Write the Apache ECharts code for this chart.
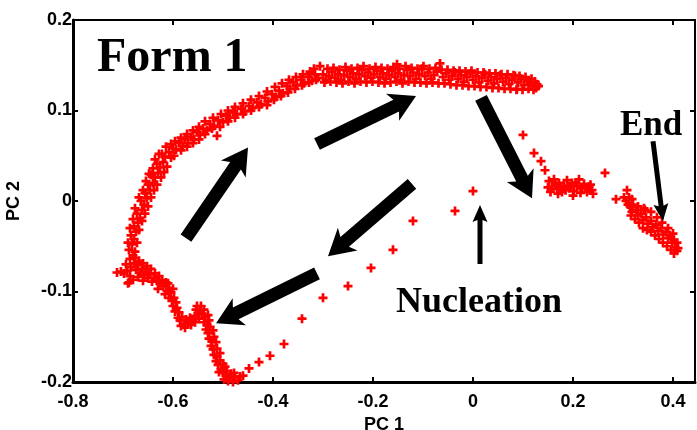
<!DOCTYPE html>
<html>
<head>
<meta charset="utf-8" />
<title>Form 1</title>
<script src="https://cdn.jsdelivr.net/npm/echarts@6/dist/echarts.min.js"></script>
</head>
<body style="margin:0;">
<div id="chart" style="width:697px;height:430px;"></div>
<script>
// PC1 / PC2 points, split into path segments
var nucleationPath = [
  [0.000, 0.011], [-0.036, -0.011], [-0.120, -0.022], [-0.160, -0.054],
  [-0.204, -0.074], [-0.250, -0.094], [-0.300, -0.107], [-0.342, -0.130],
  [-0.378, -0.158], [-0.406, -0.171], [-0.428, -0.178], [-0.448, -0.185],
  [-0.460, -0.193], [-0.478, -0.190]
];
var leftLower = [
  [-0.470, -0.198], [-0.476, -0.194], [-0.480, -0.200], [-0.486, -0.196], [-0.490, -0.199],
  [-0.494, -0.193], [-0.498, -0.197], [-0.500, -0.190], [-0.504, -0.186], [-0.508, -0.189],
  [-0.510, -0.181], [-0.514, -0.177], [-0.512, -0.172], [-0.518, -0.170], [-0.520, -0.164],
  [-0.524, -0.160], [-0.522, -0.155], [-0.528, -0.152], [-0.530, -0.146], [-0.534, -0.142],
  [-0.532, -0.137], [-0.538, -0.134], [-0.536, -0.128], [-0.542, -0.125], [-0.546, -0.121],
  [-0.550, -0.124], [-0.554, -0.120], [-0.556, -0.127], [-0.560, -0.131], [-0.566, -0.129],
  [-0.570, -0.135], [-0.574, -0.131], [-0.578, -0.136], [-0.582, -0.128], [-0.586, -0.132],
  [-0.588, -0.123], [-0.592, -0.118], [-0.594, -0.112], [-0.598, -0.107], [-0.602, -0.110],
  [-0.604, -0.101], [-0.608, -0.096], [-0.612, -0.099], [-0.614, -0.090], [-0.620, -0.094],
  [-0.626, -0.091], [-0.630, -0.097], [-0.632, -0.088], [-0.638, -0.085], [-0.642, -0.089],
  [-0.646, -0.081], [-0.650, -0.085], [-0.654, -0.078], [-0.658, -0.082], [-0.662, -0.075],
  [-0.666, -0.079], [-0.670, -0.071], [-0.674, -0.076], [-0.678, -0.069], [-0.680, -0.087],
  [-0.684, -0.073], [-0.690, -0.091], [-0.692, -0.077], [-0.698, -0.080], [-0.712, -0.079]
];
var leftLowerFill = [
  [-0.466, -0.194], [-0.484, -0.191], [-0.492, -0.188], [-0.496, -0.183], [-0.500, -0.180],
  [-0.506, -0.176], [-0.506, -0.168], [-0.512, -0.163], [-0.514, -0.156], [-0.518, -0.150],
  [-0.520, -0.143], [-0.526, -0.139], [-0.528, -0.132], [-0.530, -0.126], [-0.538, -0.120],
  [-0.544, -0.116], [-0.552, -0.116], [-0.548, -0.130], [-0.556, -0.134], [-0.564, -0.137],
  [-0.576, -0.140], [-0.584, -0.138], [-0.590, -0.129], [-0.596, -0.122], [-0.600, -0.116],
  [-0.608, -0.107], [-0.616, -0.103], [-0.600, -0.097], [-0.610, -0.091], [-0.622, -0.087],
  [-0.628, -0.083], [-0.636, -0.080], [-0.644, -0.075], [-0.652, -0.072], [-0.660, -0.069],
  [-0.668, -0.066], [-0.676, -0.063], [-0.660, -0.088], [-0.670, -0.084], [-0.686, -0.083],
  [-0.694, -0.070], [-0.704, -0.078], [-0.688, -0.090]
];
var leftUpper = [
  [-0.686, -0.064], [-0.680, -0.060], [-0.688, -0.054], [-0.682, -0.048], [-0.678, -0.042],
  [-0.684, -0.038], [-0.674, -0.034], [-0.678, -0.028], [-0.670, -0.024], [-0.666, -0.019],
  [-0.672, -0.014], [-0.662, -0.010], [-0.658, -0.004], [-0.664, 0.000], [-0.652, 0.003],
  [-0.656, 0.009], [-0.646, 0.012], [-0.650, 0.018], [-0.640, 0.020], [-0.636, 0.026],
  [-0.644, 0.029], [-0.630, 0.031], [-0.626, 0.037], [-0.632, 0.041], [-0.620, 0.043],
  [-0.616, 0.049], [-0.622, 0.052], [-0.608, 0.054], [-0.600, 0.058], [-0.604, 0.063],
  [-0.594, 0.057], [-0.588, 0.064], [-0.580, 0.061], [-0.576, 0.068], [-0.570, 0.064],
  [-0.564, 0.071], [-0.558, 0.068], [-0.552, 0.076], [-0.546, 0.073], [-0.540, 0.080],
  [-0.532, 0.078], [-0.526, 0.085], [-0.518, 0.083], [-0.512, 0.072], [-0.510, 0.089],
  [-0.500, 0.087], [-0.494, 0.094], [-0.486, 0.092], [-0.480, 0.098], [-0.472, 0.096],
  [-0.464, 0.102], [-0.456, 0.099], [-0.448, 0.105], [-0.440, 0.103], [-0.432, 0.109],
  [-0.424, 0.107], [-0.416, 0.114], [-0.410, 0.110], [-0.402, 0.118], [-0.394, 0.115],
  [-0.388, 0.122], [-0.380, 0.119], [-0.372, 0.127], [-0.366, 0.124], [-0.360, 0.131],
  [-0.352, 0.128], [-0.344, 0.134], [-0.338, 0.130], [-0.330, 0.137], [-0.322, 0.133],
  [-0.316, 0.140], [-0.310, 0.136], [-0.306, 0.149]
];
var leftUpperFill = [
  [-0.676, -0.056], [-0.690, -0.046], [-0.672, -0.046], [-0.686, -0.030], [-0.668, -0.032],
  [-0.680, -0.020], [-0.662, -0.022], [-0.676, -0.008], [-0.656, -0.014], [-0.668, 0.004],
  [-0.650, -0.006], [-0.660, 0.012], [-0.644, 0.004], [-0.654, 0.022], [-0.638, 0.012],
  [-0.648, 0.030], [-0.632, 0.018], [-0.640, 0.036], [-0.624, 0.026], [-0.636, 0.046],
  [-0.618, 0.032], [-0.628, 0.052], [-0.612, 0.038], [-0.614, 0.060], [-0.604, 0.048],
  [-0.596, 0.066], [-0.598, 0.050], [-0.584, 0.056], [-0.584, 0.070], [-0.572, 0.060],
  [-0.572, 0.074], [-0.560, 0.064], [-0.560, 0.078], [-0.548, 0.068], [-0.548, 0.082],
  [-0.536, 0.074], [-0.536, 0.088], [-0.522, 0.080], [-0.520, 0.092], [-0.506, 0.082],
  [-0.504, 0.096], [-0.490, 0.088], [-0.490, 0.100], [-0.476, 0.092], [-0.476, 0.104],
  [-0.460, 0.096], [-0.460, 0.108], [-0.444, 0.100], [-0.444, 0.112], [-0.428, 0.104],
  [-0.428, 0.116], [-0.412, 0.106], [-0.412, 0.121], [-0.398, 0.112], [-0.396, 0.126],
  [-0.384, 0.116], [-0.382, 0.130], [-0.370, 0.120], [-0.368, 0.134], [-0.356, 0.124],
  [-0.354, 0.137], [-0.342, 0.128], [-0.340, 0.140], [-0.328, 0.131], [-0.326, 0.143],
  [-0.314, 0.134], [-0.318, 0.146]
];
var topBand = [
  [-0.300, 0.140], [-0.294, 0.134], [-0.288, 0.138], [-0.282, 0.143], [-0.276, 0.136],
  [-0.270, 0.140], [-0.264, 0.134], [-0.258, 0.139], [-0.252, 0.144], [-0.246, 0.137],
  [-0.240, 0.141], [-0.234, 0.135], [-0.228, 0.140], [-0.222, 0.145], [-0.216, 0.138],
  [-0.210, 0.142], [-0.204, 0.136], [-0.198, 0.140], [-0.192, 0.144], [-0.186, 0.137],
  [-0.180, 0.141], [-0.174, 0.135], [-0.168, 0.139], [-0.162, 0.144], [-0.156, 0.137],
  [-0.152, 0.151], [-0.150, 0.141], [-0.144, 0.134], [-0.138, 0.139], [-0.132, 0.145],
  [-0.126, 0.138], [-0.120, 0.142], [-0.114, 0.135], [-0.108, 0.140], [-0.102, 0.146],
  [-0.096, 0.138], [-0.090, 0.142], [-0.084, 0.135], [-0.078, 0.139], [-0.072, 0.143],
  [-0.066, 0.152], [-0.060, 0.137], [-0.054, 0.141], [-0.048, 0.134], [-0.042, 0.138],
  [-0.036, 0.142], [-0.030, 0.135], [-0.024, 0.139], [-0.018, 0.132], [-0.012, 0.137],
  [-0.006, 0.141], [0.000, 0.134], [0.006, 0.138], [0.012, 0.131], [0.018, 0.136],
  [0.024, 0.140], [0.030, 0.133], [0.036, 0.137], [0.042, 0.130], [0.048, 0.135],
  [0.054, 0.139], [0.060, 0.132], [0.066, 0.136], [0.072, 0.129], [0.078, 0.134],
  [0.084, 0.138], [0.088, 0.124], [0.090, 0.131], [0.096, 0.135], [0.102, 0.128],
  [0.108, 0.133], [0.114, 0.130], [0.120, 0.127], [0.124, 0.132], [0.128, 0.129]
];
var topBandFill = [
  [-0.297, 0.131], [-0.291, 0.146], [-0.285, 0.132], [-0.279, 0.147], [-0.273, 0.131],
  [-0.267, 0.145], [-0.261, 0.130], [-0.255, 0.148], [-0.249, 0.132], [-0.243, 0.146],
  [-0.237, 0.130], [-0.231, 0.147], [-0.225, 0.132], [-0.219, 0.149], [-0.213, 0.131],
  [-0.207, 0.146], [-0.201, 0.132], [-0.195, 0.148], [-0.189, 0.131], [-0.183, 0.147],
  [-0.177, 0.130], [-0.171, 0.146], [-0.165, 0.131], [-0.159, 0.148], [-0.153, 0.132],
  [-0.147, 0.146], [-0.141, 0.130], [-0.135, 0.149], [-0.129, 0.132], [-0.123, 0.147],
  [-0.117, 0.131], [-0.111, 0.146], [-0.105, 0.131], [-0.099, 0.149], [-0.093, 0.130],
  [-0.087, 0.146], [-0.081, 0.131], [-0.075, 0.147], [-0.069, 0.130], [-0.063, 0.145],
  [-0.057, 0.130], [-0.051, 0.145], [-0.045, 0.129], [-0.039, 0.144], [-0.033, 0.128],
  [-0.027, 0.144], [-0.021, 0.128], [-0.015, 0.143], [-0.009, 0.127], [-0.003, 0.144],
  [0.003, 0.127], [0.009, 0.142], [0.015, 0.126], [0.021, 0.142], [0.027, 0.126],
  [0.033, 0.141], [0.039, 0.125], [0.045, 0.141], [0.051, 0.125], [0.057, 0.140],
  [0.063, 0.124], [0.069, 0.140], [0.075, 0.124], [0.081, 0.139], [0.087, 0.123],
  [0.093, 0.138], [0.099, 0.123], [0.105, 0.137], [0.111, 0.124], [0.117, 0.135],
  [0.121, 0.123], [0.126, 0.125], [0.131, 0.127]
];
var descent = [
  [0.100, 0.073], [0.122, 0.053], [0.136, 0.044], [0.144, 0.034]
];
var plateau = [
  [0.152, 0.022], [0.158, 0.016], [0.162, 0.024], [0.168, 0.013], [0.172, 0.020],
  [0.178, 0.010], [0.182, 0.017], [0.188, 0.023], [0.192, 0.014], [0.198, 0.020],
  [0.202, 0.011], [0.208, 0.017], [0.212, 0.024], [0.218, 0.014], [0.222, 0.019],
  [0.228, 0.010], [0.232, 0.016], [0.238, 0.012], [0.264, 0.031], [0.286, 0.002],
  [0.150, 0.015], [0.155, 0.010], [0.165, 0.018], [0.175, 0.015], [0.185, 0.012],
  [0.195, 0.016], [0.205, 0.020], [0.215, 0.009], [0.225, 0.015], [0.235, 0.018],
  [0.240, 0.008], [0.170, 0.008], [0.200, 0.006]
];
var endCluster = [
  [0.308, 0.012], [0.312, 0.004], [0.306, 0.000], [0.314, -0.006], [0.320, -0.004],
  [0.318, -0.012], [0.326, -0.010], [0.330, -0.016], [0.336, -0.014], [0.340, -0.021],
  [0.344, -0.010], [0.346, -0.018], [0.350, -0.025], [0.356, -0.022], [0.360, -0.029],
  [0.366, -0.026], [0.370, -0.033], [0.376, -0.030], [0.380, -0.037], [0.386, -0.034],
  [0.390, -0.041], [0.394, -0.038], [0.398, -0.046], [0.402, -0.043], [0.404, -0.051],
  [0.408, -0.055]
];
var endFill = [
  [0.302, 0.004], [0.310, -0.004], [0.316, -0.016], [0.324, -0.020], [0.332, -0.024],
  [0.340, -0.030], [0.348, -0.032], [0.356, -0.034], [0.364, -0.038], [0.372, -0.042],
  [0.380, -0.046], [0.388, -0.050], [0.396, -0.054], [0.402, -0.058], [0.318, 0.002],
  [0.330, -0.006], [0.342, -0.008], [0.356, -0.012], [0.368, -0.018], [0.378, -0.024],
  [0.390, -0.030], [0.400, -0.036], [0.408, -0.046], [0.410, -0.052]
];
// arrows: [x tail, y tail, x tip, y tip]
var bigArrows = [
  [-0.574, -0.041, -0.450, 0.059],
  [-0.312, 0.063, -0.114, 0.116],
  [0.016, 0.114, 0.118, 0.003],
  [-0.122, 0.019, -0.290, -0.061],
  [-0.312, -0.080, -0.514, -0.135]
];
var thinArrows = [
  [0.014, -0.0696, 0.014, -0.0044],
  [0.360, 0.066, 0.380, -0.022]
];
var xTicks = [-0.8, -0.6, -0.4, -0.2, 0, 0.2, 0.4];

var plus = 'path://M3.5,0H6.5V3.5H10V6.5H6.5V10H3.5V6.5H0V3.5H3.5Z';

function pointSeries(data) {
  return {
    type: 'scatter',
    data: data,
    symbol: plus,
    symbolSize: 9,
    itemStyle: { color: '#ff0000', opacity: 1 },
    animation: false
  };
}

// filled arrow polygon between two data points, with barbs swept back a little
function arrowSeries(data, shaft, headLen, headW, sweep) {
  return {
    type: 'custom',
    data: data,
    encode: { x: [0, 2], y: [1, 3] },
    z: 5,
    animation: false,
    renderItem: function (params, api) {
      var a = api.coord([api.value(0), api.value(1)]);
      var b = api.coord([api.value(2), api.value(3)]);
      var dx = b[0] - a[0], dy = b[1] - a[1];
      var len = Math.sqrt(dx * dx + dy * dy);
      var ux = dx / len, uy = dy / len;
      var px = -uy, py = ux;
      var n = [b[0] - ux * headLen, b[1] - uy * headLen];
      var k = [n[0] - ux * sweep, n[1] - uy * sweep];
      var pts = [
        [a[0] + px * shaft, a[1] + py * shaft],
        [n[0] + px * shaft, n[1] + py * shaft],
        [k[0] + px * headW, k[1] + py * headW],
        b,
        [k[0] - px * headW, k[1] - py * headW],
        [n[0] - px * shaft, n[1] - py * shaft],
        [a[0] - px * shaft, a[1] - py * shaft]
      ];
      return { type: 'polygon', shape: { points: pts }, style: { fill: '#000' } };
    }
  };
}

var labelFont = { fontFamily: 'Liberation Sans', fontWeight: 'bold', fontSize: 18, color: '#000' };
var tickFmt = function (v) {
  for (var i = 0; i < xTicks.length; i++) {
    if (Math.abs(v - xTicks[i]) < 1e-6) return String(xTicks[i]);
  }
  return '';
};

var chart = echarts.init(document.getElementById('chart'), null, { renderer: 'canvas' });
var option = {
  backgroundColor: '#fff',
  animation: false,
  grid: { left: 73, right: 2, top: 20, bottom: 48, containLabel: false, outerBoundsMode: 'none' },
  xAxis: [{
    type: 'value', min: -0.8, max: 0.444, interval: 0.2,
    name: 'PC 1', nameLocation: 'middle', nameGap: 31,
    nameTextStyle: labelFont,
    axisLine: { onZero: false, lineStyle: { color: '#000', width: 3 } },
    axisTick: { inside: true, length: 5, lineStyle: { color: '#000', width: 2 } },
    axisLabel: Object.assign({ margin: 11, formatter: tickFmt, showMaxLabel: false }, labelFont),
    splitLine: { show: false }
  }, {
    type: 'value', position: 'top', min: -0.8, max: 0.444, interval: 0.2,
    axisLine: { onZero: false, lineStyle: { color: '#000', width: 2 } },
    axisTick: { inside: true, length: 5, lineStyle: { color: '#000', width: 2 } },
    axisLabel: { show: false },
    splitLine: { show: false }
  }],
  yAxis: [{
    type: 'value', min: -0.2, max: 0.2, interval: 0.1,
    name: 'PC 2', nameLocation: 'middle', nameGap: 50,
    nameTextStyle: labelFont,
    axisLine: { onZero: false, lineStyle: { color: '#000', width: 3 } },
    axisTick: { inside: true, length: 5, lineStyle: { color: '#000', width: 2 } },
    axisLabel: Object.assign({ margin: 1 }, labelFont),
    splitLine: { show: false }
  }, {
    type: 'value', position: 'right', min: -0.2, max: 0.2, interval: 0.1,
    axisLine: { onZero: false, lineStyle: { color: '#000', width: 2 } },
    axisTick: { inside: true, length: 5, lineStyle: { color: '#000', width: 2 } },
    axisLabel: { show: false },
    splitLine: { show: false }
  }],
  graphic: [
    { type: 'text', x: 97, y: 59, style: { text: 'Form 1', font: 'bold 48px "Liberation Serif"', fill: '#000', verticalAlign: 'middle' } },
    { type: 'text', x: 620, y: 126, style: { text: 'End', font: 'bold 35px "Liberation Serif"', fill: '#000', verticalAlign: 'middle' } },
    { type: 'text', x: 396, y: 303, style: { text: 'Nucleation', font: 'bold 36px "Liberation Serif"', fill: '#000', verticalAlign: 'middle' } }
  ],
  series: [
    pointSeries(nucleationPath),
    pointSeries(leftLower),
    pointSeries(leftLowerFill),
    pointSeries(leftUpper),
    pointSeries(leftUpperFill),
    pointSeries(topBand),
    pointSeries(topBandFill),
    pointSeries(descent),
    pointSeries(plateau),
    pointSeries(endCluster),
    pointSeries(endFill),
    arrowSeries(bigArrows, 6.5, 22, 15, 4),
    arrowSeries(thinArrows, 2.5, 15, 7.5, 2)
  ]
};
chart.setOption(option);
window.addEventListener('resize', chart.resize);
</script>
</body>
</html>
